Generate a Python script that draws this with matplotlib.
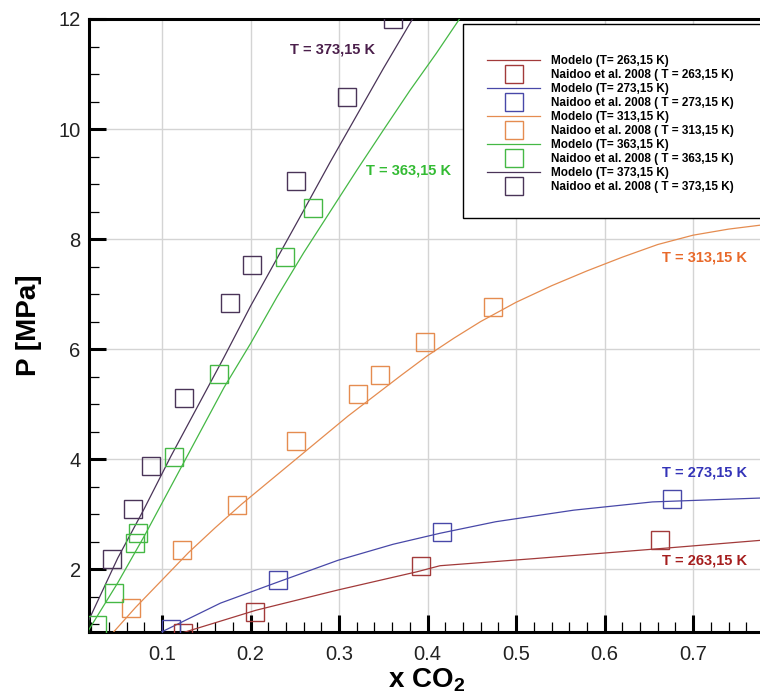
import matplotlib
matplotlib.use("Agg")
import matplotlib.pyplot as plt
from matplotlib.lines import Line2D
from matplotlib.patches import Rectangle
from matplotlib.ticker import MultipleLocator

plt.rcParams['font.family'] = ['Liberation Sans', 'DejaVu Sans']
plt.rcParams['mathtext.fontset'] = 'custom'
plt.rcParams['mathtext.rm'] = 'Liberation Sans:bold'
plt.rcParams['mathtext.bf'] = 'Liberation Sans:bold'

# --- model curves ---
x_263 = [0.121, 0.206, 0.299, 0.388, 0.414, 0.521, 0.654, 0.775]
p_263 = [0.83, 1.25, 1.62, 1.95, 2.06, 2.19, 2.36, 2.52]

x_273 = [0.100, 0.166, 0.232, 0.299, 0.361, 0.414, 0.477, 0.565, 0.654, 0.775]
p_273 = [0.86, 1.38, 1.77, 2.16, 2.45, 2.65, 2.86, 3.07, 3.22, 3.29]

x_313 = [0.045, 0.07, 0.10, 0.13, 0.16, 0.19, 0.22, 0.25, 0.28, 0.31, 0.34, 0.37,
         0.40, 0.43, 0.46, 0.50, 0.54, 0.58, 0.62, 0.66, 0.70, 0.74, 0.775]
p_313 = [0.85, 1.30, 1.80, 2.30, 2.75, 3.18, 3.58, 3.98, 4.38, 4.78, 5.15, 5.52,
         5.88, 6.20, 6.50, 6.85, 7.15, 7.42, 7.67, 7.90, 8.07, 8.18, 8.25]

x_363 = [0.0175, 0.05, 0.08, 0.11, 0.14, 0.17, 0.20, 0.23, 0.26, 0.29, 0.32, 0.35,
         0.38, 0.41, 0.436]
p_363 = [0.90, 1.75, 2.60, 3.50, 4.40, 5.30, 6.10, 6.95, 7.75, 8.50, 9.25, 9.98,
         10.70, 11.38, 12.0]

x_373 = [0.0175, 0.05, 0.08, 0.11, 0.14, 0.17, 0.20, 0.23, 0.26, 0.29, 0.32, 0.35, 0.383]
p_373 = [1.08, 2.20, 3.10, 4.05, 4.95, 5.85, 6.78, 7.65, 8.52, 9.40, 10.25, 11.10, 12.0]

# --- Naidoo et al. 2008 data ---
xe_263 = [0.124, 0.205, 0.393, 0.662]
pe_263 = [0.84, 1.21, 2.05, 2.53]

xe_273 = [0.110, 0.231, 0.416, 0.676]
pe_273 = [0.91, 1.80, 2.68, 3.28]

xe_313 = [0.065, 0.123, 0.185, 0.251, 0.321, 0.346, 0.397, 0.474]
pe_313 = [1.30, 2.35, 3.17, 4.33, 5.18, 5.53, 6.12, 6.76]

xe_363 = [0.026, 0.046, 0.0695, 0.073, 0.113, 0.164, 0.239, 0.271]
pe_363 = [0.98, 1.57, 2.47, 2.66, 4.04, 5.55, 7.68, 8.56]

xe_373 = [0.0436, 0.0673, 0.0876, 0.125, 0.177, 0.2016, 0.251, 0.309, 0.361]
pe_373 = [2.18, 3.10, 3.88, 5.11, 6.83, 7.53, 9.06, 10.58, 12.0]

temps = ['263,15', '273,15', '313,15', '363,15', '373,15']
line_colors = ['#a23a3a', '#4848a8', '#e58c50', '#45b845', '#4a3458']
label_colors = ['#a51e1e', '#3434b8', '#e8692a', '#33bb33', '#4b1f4b']
label_pos = [(0.713, 2.15), (0.713, 3.75), (0.713, 7.67), (0.378, 9.25), (0.293, 11.45)]

models = [(x_263, p_263), (x_273, p_273), (x_313, p_313), (x_363, p_363), (x_373, p_373)]
exps = [(xe_263, pe_263), (xe_273, pe_273), (xe_313, pe_313), (xe_363, pe_363), (xe_373, pe_373)]

fig = plt.figure(figsize=(7.6, 6.98), dpi=100)
ax = fig.add_axes([89 / 760, 1 - 632 / 698, (764 - 89) / 760, (632 - 19) / 698])

handles = []
labels = []
for i in range(len(temps)):
    xm, pm = models[i]
    xe, pe = exps[i]
    ax.plot(xm, pm, color=line_colors[i], lw=0.9, zorder=3)
    ax.plot(xe, pe, ls='none', marker='s', ms=12.5, mfc='none',
            mec=line_colors[i], mew=1.0, zorder=4, clip_on=True)
    ax.text(label_pos[i][0], label_pos[i][1], 'T = %s K' % temps[i],
            color=label_colors[i], fontsize=10.5, fontweight='bold',
            ha='center', va='center', zorder=5)
    handles.append(Line2D([], [], color=line_colors[i], lw=0.9))
    labels.append('Modelo (T= %s K)' % temps[i])
    handles.append(Line2D([], [], ls='none', marker='s', ms=12.5, mfc='none',
                          mec=line_colors[i], mew=1.0))
    labels.append('Naidoo et al. 2008 ( T = %s K)' % temps[i])

ax.set_xlim(0.0175, 0.78)
ax.set_ylim(0.855, 12)
ax.xaxis.set_major_locator(MultipleLocator(0.1))
ax.xaxis.set_minor_locator(MultipleLocator(0.02))
ax.yaxis.set_major_locator(MultipleLocator(2))
ax.yaxis.set_minor_locator(MultipleLocator(0.5))
ax.grid(True, which='major', color='#d4d4d4', lw=1.0, zorder=0)
ax.set_axisbelow(True)

ax.tick_params(which='major', direction='in', length=12, width=2.2,
               labelsize=14.5, colors='black', labelcolor='#222222')
ax.tick_params(axis='x', which='major', pad=9)
ax.tick_params(axis='y', which='major', pad=6)
ax.tick_params(which='minor', direction='in', length=7.5, width=0.9)
ax.tick_params(top=False, right=False, which='both')
for side in ['left', 'bottom', 'top', 'right']:
    ax.spines[side].set_linewidth(2.2)

ax.set_xlabel(r'x CO$_{\mathbf{2}}$', fontsize=20, fontweight='bold', labelpad=2)
ax.set_ylabel('P [MPa]', fontsize=20, fontweight='bold', labelpad=12)

# legend box with its own frame
fig.patches.append(Rectangle((463 / 760, 1 - 218 / 698), 320 / 760, 194 / 698,
                             transform=fig.transFigure, fill=True, facecolor='white',
                             edgecolor='black', lw=1.0, zorder=10))
leg = fig.legend(handles, labels, loc='center left',
                 bbox_to_anchor=(487 / 760, 1 - 124 / 698),
                 frameon=False, prop={'size': 8.5, 'weight': 'bold'},
                 handlelength=4.5, handletextpad=0.93, labelspacing=0.17,
                 borderaxespad=0, borderpad=0)
leg.set_zorder(11)

fig.savefig('out.png', dpi=100)
